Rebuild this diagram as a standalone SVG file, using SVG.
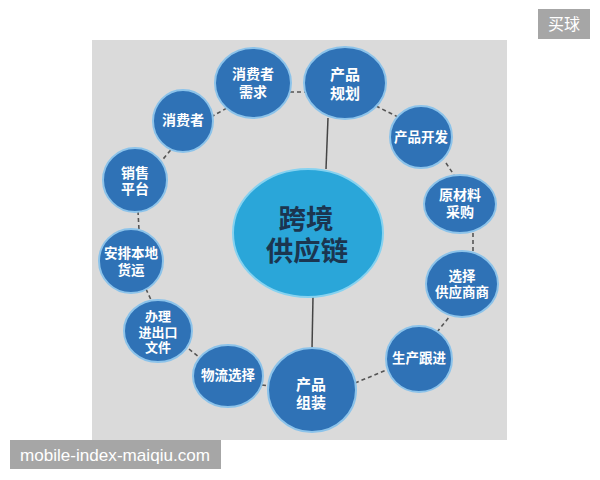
<svg xmlns="http://www.w3.org/2000/svg" width="600" height="480" viewBox="0 0 600 480">
<style>
.n{fill:#2f72b6;stroke:#8cc3ea;stroke-width:2}
.c{fill:#2aa6d9;stroke:#86d2f0;stroke-width:2}
.t{font-family:"Liberation Sans","Noto Sans CJK SC",sans-serif;font-weight:bold;fill:#ffffff;text-anchor:middle}
.ct{font-family:"Liberation Sans","Noto Sans CJK SC",sans-serif;font-weight:bold;fill:#1b3550;text-anchor:middle;font-size:27.5px}
.d{stroke:#555555;stroke-width:1.6;stroke-dasharray:4 3;fill:none}
.s{stroke:#444444;stroke-width:1.5;fill:none}
.w{fill:#a6a6a6}
.wt{fill:#ffffff;font-family:"Liberation Sans","Noto Sans CJK SC",sans-serif}
</style>
<rect x="0" y="0" width="600" height="480" fill="#ffffff"/>
<rect x="92" y="40" width="415" height="400" fill="#dadada"/>
<g id="connectors">
<line class="s" x1="328" y1="118" x2="326" y2="169"/>
<line class="s" x1="313" y1="297" x2="312" y2="349"/>
<line class="d" x1="290" y1="92" x2="305" y2="92"/>
<line class="d" x1="211" y1="117" x2="227" y2="108"/>
<line class="d" x1="159" y1="164" x2="174" y2="146"/>
<line class="d" x1="138" y1="211" x2="139" y2="230"/>
<line class="d" x1="146" y1="289" x2="152" y2="302"/>
<line class="d" x1="189" y1="349" x2="200" y2="358"/>
<line class="d" x1="262" y1="385" x2="270" y2="386"/>
<line class="d" x1="355" y1="383" x2="389" y2="369"/>
<line class="d" x1="437" y1="332" x2="450" y2="316"/>
<line class="d" x1="473" y1="233" x2="473" y2="252"/>
<line class="d" x1="446" y1="163" x2="454" y2="175"/>
<line class="d" x1="376" y1="106" x2="398" y2="117"/>
</g>
<g id="center">
<ellipse class="c" cx="308" cy="233" rx="75" ry="64"/>
<text class="ct" x="306" y="229">跨境</text>
<text class="ct" x="307" y="261">供应链</text>
</g>
<g id="n-xfzxq">
<ellipse class="n" cx="253" cy="83" rx="38" ry="35"/>
<text class="t" font-size="14" x="253" y="79">消费者</text>
<text class="t" font-size="14" x="253" y="96.5">需求</text>
</g>
<g id="n-xfz">
<ellipse class="n" cx="183" cy="121" rx="30" ry="31"/>
<text class="t" font-size="14" x="183" y="125">消费者</text>
</g>
<g id="n-xspt">
<ellipse class="n" cx="135" cy="180" rx="32" ry="32"/>
<text class="t" font-size="14" x="135" y="177.5">销售</text>
<text class="t" font-size="14" x="135" y="194">平台</text>
</g>
<g id="n-apbdhy">
<ellipse class="n" cx="131" cy="261" rx="32" ry="32"/>
<text class="t" font-size="13.5" x="131" y="258">安排本地</text>
<text class="t" font-size="13.5" x="131" y="275">货运</text>
</g>
<g id="n-bljckwj">
<ellipse class="n" cx="158" cy="331" rx="34" ry="31"/>
<text class="t" font-size="13" x="158" y="321">办理</text>
<text class="t" font-size="13" x="158" y="336.5">进出口</text>
<text class="t" font-size="13" x="158" y="352">文件</text>
</g>
<g id="n-wlxz">
<ellipse class="n" cx="228" cy="376" rx="35" ry="31"/>
<text class="t" font-size="13.5" x="228" y="380">物流选择</text>
</g>
<g id="n-cpzz">
<ellipse class="n" cx="312" cy="390" rx="44" ry="42"/>
<text class="t" font-size="15" x="311" y="389.5">产品</text>
<text class="t" font-size="15" x="311" y="407.5">组装</text>
</g>
<g id="n-scgj">
<ellipse class="n" cx="419" cy="359" rx="33" ry="33"/>
<text class="t" font-size="13.5" x="419" y="363">生产跟进</text>
</g>
<g id="n-xzgyss">
<ellipse class="n" cx="462" cy="284" rx="36" ry="33"/>
<text class="t" font-size="13.5" x="462" y="281">选择</text>
<text class="t" font-size="13.5" x="462" y="297">供应商商</text>
</g>
<g id="n-yclcg">
<ellipse class="n" cx="460" cy="204" rx="36" ry="29"/>
<text class="t" font-size="14" x="460" y="200">原材料</text>
<text class="t" font-size="14" x="460" y="217">采购</text>
</g>
<g id="n-cpkf">
<ellipse class="n" cx="421" cy="137" rx="31" ry="31"/>
<text class="t" font-size="13.5" x="421" y="142">产品开发</text>
</g>
<g id="n-cpgh">
<ellipse class="n" cx="345" cy="83" rx="41" ry="36"/>
<text class="t" font-size="15" x="345" y="80">产品</text>
<text class="t" font-size="15" x="345" y="99">规划</text>
</g>
<g id="watermarks">
<rect class="w" x="538" y="9" width="52" height="30"/>
<text class="wt" x="564" y="30" font-size="16" text-anchor="middle">买球</text>
<rect class="w" x="10" y="440" width="211" height="29"/>
<text class="wt" x="20" y="461" font-size="17" textLength="190" lengthAdjust="spacingAndGlyphs">mobile-index-maiqiu.com</text>
</g>
</svg>
